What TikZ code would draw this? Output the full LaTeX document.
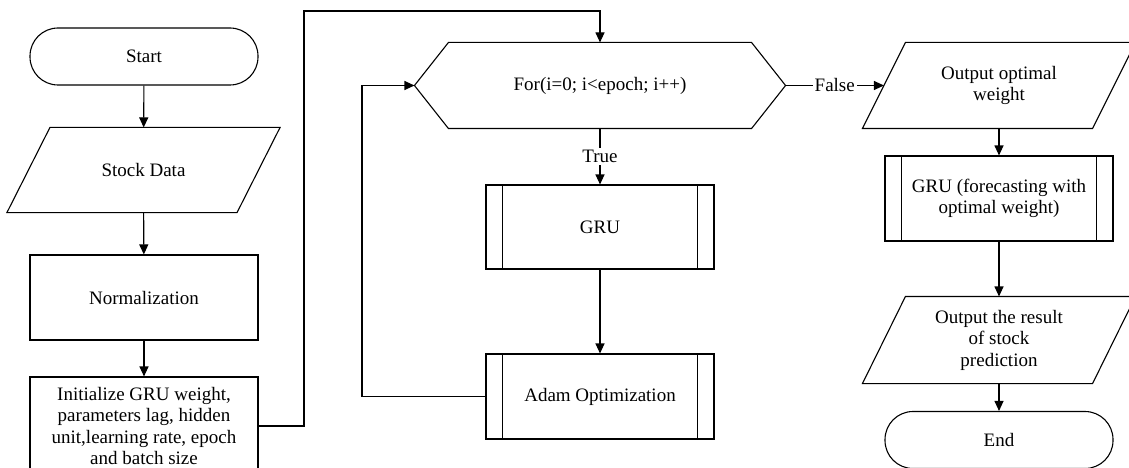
\documentclass[tikz,border=0pt]{standalone}
\usepackage{fontspec}
\setmainfont{Liberation Serif}
\usetikzlibrary{arrows.meta,calc}
\begin{document}
\begin{tikzpicture}[x=1pt,y=-1pt,line width=1.1pt,
  every node/.style={font=\fontsize{19}{21.5}\selectfont, align=center, inner sep=0pt},
  terminal/.style={draw, rectangle, rounded corners=28pt, minimum width=228pt, minimum height=57pt},
  procbox/.style={draw, rectangle, minimum width=228pt},
  iobox/.style={minimum width=272pt},
  hexbox/.style={minimum width=370pt, minimum height=85pt},
  arr/.style={-{Triangle[length=10pt,width=9pt]}},
  lbl/.style={fill=white, inner sep=2pt}]
\useasboundingbox (0,0) rectangle (1129,468);

% nodes
\node[terminal] (start) at (144,56.5) {Start};
\node[iobox, minimum height=84pt] (stock) at (143.5,170) {Stock Data};
\node[procbox, minimum height=85pt] (norm) at (144,297.5) {Normalization};
\node[procbox, minimum height=98pt] (init) at (144,426)
  {Initialize GRU weight,\\parameters lag, hidden\\unit,learning rate, epoch\\and batch size};
\node[hexbox] (loop) at (600,85.5) {For(i=0; i<epoch; i++)};
\node[procbox, minimum height=84pt] (gru) at (600,227) {GRU};
\node[procbox, minimum height=85pt] (adam) at (600,396.5) {Adam Optimization};
\node[iobox, minimum height=85pt] (ow) at (999,85.5) {Output optimal\\weight};
\node[procbox, minimum height=85pt] (gruf) at (999,198.5) {GRU (forecasting with\\optimal weight)};
\node[iobox, minimum height=86pt] (res) at (999,340) {Output the result\\of stock\\prediction};
\node[terminal] (end) at (999,440) {End};

% shape outlines
\foreach \n in {stock,ow,res}{
  \draw ([xshift=43pt]\n.north west) -- (\n.north east) -- ([xshift=-43pt]\n.south east) -- (\n.south west) -- cycle;
}
\draw (loop.west) -- ([xshift=34pt]loop.north west) -- ([xshift=-34pt]loop.north east) -- (loop.east)
  -- ([xshift=-34pt]loop.south east) -- ([xshift=34pt]loop.south west) -- cycle;
\foreach \n in {gru,adam,gruf}{
  \draw ([xshift=17pt]\n.north west) -- ([xshift=17pt]\n.south west);
  \draw ([xshift=-17pt]\n.north east) -- ([xshift=-17pt]\n.south east);
}

% helper coordinates
\coordinate (c1) at (304,11);
\coordinate (c2) at (362,85.5);
\coordinate (owin) at ($(ow.west)+(21.5,0)$);

% connectors
\draw[arr] (start) -- (stock);
\draw[arr] (stock) -- (norm);
\draw[arr] (norm) -- (init);
\draw[arr] (init.east) -| (c1) -| (loop.north);
\draw[arr] (adam.west) -| (c2) -- (loop.west);
\draw[arr] (loop.south) -- node[lbl] {True} (gru.north);
\draw[arr] (gru) -- (adam);
\draw[arr] (loop.east) -- node[lbl] {False} (owin);
\draw[arr] (ow) -- (gruf);
\draw[arr] (gruf) -- (res);
\draw[arr] (res) -- (end);
\end{tikzpicture}
\end{document}
